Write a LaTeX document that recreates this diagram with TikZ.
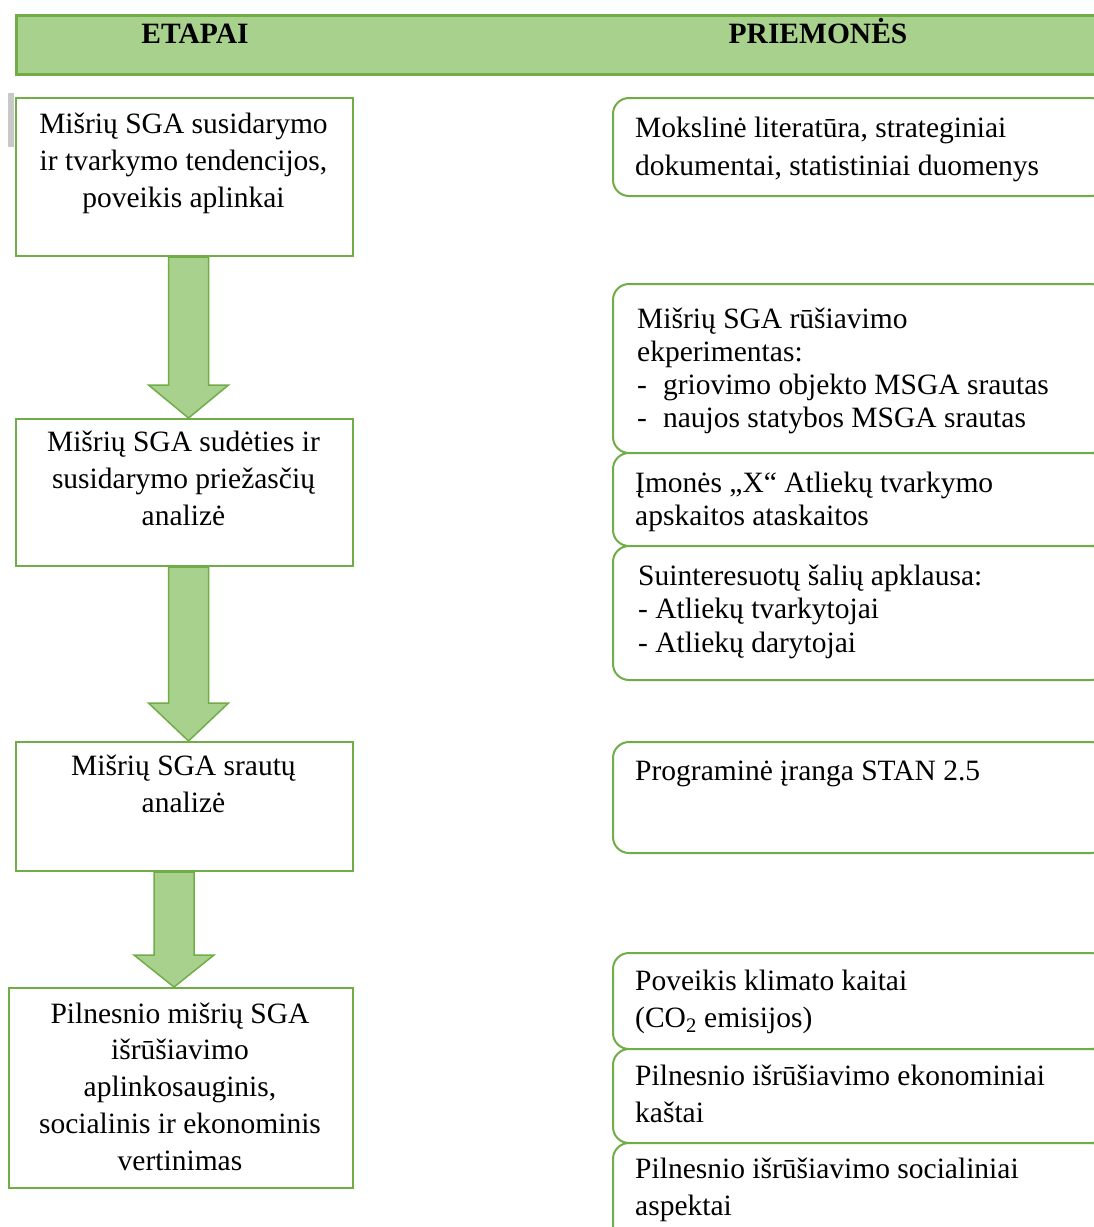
\documentclass[tikz,border=0pt]{standalone}
\usepackage{fontspec}
\setmainfont{Liberation Serif}
\usetikzlibrary{calc}
\definecolor{gfill}{HTML}{A9D18E}
\definecolor{gline}{HTML}{70AD47}
\definecolor{gbar}{HTML}{C8C8C8}
\tikzset{
 lbox/.style={draw=gline, line width=2pt, fill=white, rectangle, inner sep=0pt, anchor=north west},
 rbox/.style={draw=gline, line width=2pt, fill=white, rectangle, rounded corners=16pt, inner sep=0pt, anchor=north west},
 hdr/.style={draw=gline, line width=2.5pt, fill=gfill, rectangle, inner sep=0pt, anchor=north west},
 htxt/.style={inner sep=0pt, anchor=base, font={\fontsize{29.5}{37}\selectfont\bfseries}},
 txt/.style={inner sep=0pt, anchor=base, font={\fontsize{29.5}{37}\selectfont}},
 rtxt/.style={inner sep=0pt, anchor=base west, font={\fontsize{29.5}{#1}\selectfont}},
 rtxt/.default=37,
 blockarr/.style={draw=gline, line width=1.5pt, fill=gfill, line join=miter},
}
\newcommand{\myblockarrow}[5]{%
 \path[blockarr] let \p1=(#1), \p2=(#2) in
  (\x1-#3pt,\y1) -- (\x1+#3pt,\y1) -- (\x1+#3pt,\y2+#5pt) -- (\x1+#4pt,\y2+#5pt)
  -- (\x1,\y2) -- (\x1-#4pt,\y2+#5pt) -- (\x1-#3pt,\y2+#5pt) -- cycle;}
\begin{document}
\begin{tikzpicture}[x=1pt,y=-1pt]
\useasboundingbox (0,0) rectangle (1094,1227);
\begin{scope}
\clip (0,0) rectangle (1094,1227);
\fill[white] (0,0) rectangle (1094,1227);
% header
\node[hdr, minimum width=1100pt, minimum height=59pt] (hdr) at (15,14) {};
\node[htxt] (h1) at (195,43) {ETAPAI};
\node[htxt] (h2) at (818,43) {PRIEMONĖS};
% grey mark
\fill[gbar] (8,93) rectangle (14,147);
% left boxes
\node[lbox, minimum width=337pt, minimum height=158pt] (b1) at (15,97) {};
\node[lbox, minimum width=337pt, minimum height=147pt] (b2) at (15,418) {};
\node[lbox, minimum width=337pt, minimum height=129pt] (b3) at (15,741) {};
\node[lbox, minimum width=344pt, minimum height=200pt] (b4) at (8,987) {};
\node[txt] (t1) at (183.5,133) {\parbox[t]{330pt}{\centering Mišrių SGA susidarymo\\ ir tvarkymo tendencijos,\\ poveikis aplinkai}};
\node[txt] (t2) at (183.5,451) {\parbox[t]{330pt}{\centering Mišrių SGA sudėties ir\\ susidarymo priežasčių\\ analizė}};
\node[txt] (t3) at (183.5,775) {\parbox[t]{330pt}{\centering Mišrių SGA srautų\\ analizė}};
\node[txt, font={\fontsize{29.5}{36.75}\selectfont}] (t4) at (180,1023) {\parbox[t]{336pt}{\centering Pilnesnio mišrių SGA\\ išrūšiavimo\\ aplinkosauginis,\\ socialinis ir ekonominis\\ vertinimas}};
% arrows
\coordinate (a1s) at ($(b1.south)+(4,0)$);
\coordinate (a1e) at ($(b2.north)+(4,0)$);
\coordinate (a2s) at ($(b2.south)+(4,0)$);
\coordinate (a2e) at ($(b3.north)+(4,0)$);
\coordinate (a3s) at ($(b3.south)+(-10.5,0)$);
\coordinate (a3e) at ($(b4.north)+(-7,0)$);
\myblockarrow{a1s}{a1e}{20}{40}{33}
\myblockarrow{a2s}{a2e}{20}{40}{38}
\myblockarrow{a3s}{a3e}{20}{40}{32}
% right boxes
\node[rbox, minimum width=494pt, minimum height=98pt] (r1) at (612,97) {};
\node[rbox, minimum width=494pt, minimum height=169pt] (r2) at (612,283) {};
\node[rbox, minimum width=494pt, minimum height=93pt] (r3) at (612,452) {};
\node[rbox, minimum width=494pt, minimum height=134pt] (r4) at (612,545) {};
\node[rbox, minimum width=494pt, minimum height=111pt] (r5) at (612,741) {};
\node[rbox, minimum width=494pt, minimum height=96pt] (r6) at (612,952) {};
\node[rbox, minimum width=494pt, minimum height=94pt] (r7) at (612,1048) {};
\node[rbox, minimum width=494pt, minimum height=120pt] (r8) at (612,1142) {};
\node[rtxt=38] (u1) at (635,137) {\parbox[t]{450pt}{\raggedright Mokslinė literatūra, strateginiai\\ dokumentai, statistiniai duomenys}};
\node[rtxt=33.2] (u2) at (637,328) {\parbox[t]{450pt}{\raggedright Mišrių SGA rūšiavimo\\ ekperimentas:\\ -\hspace{16pt}griovimo objekto MSGA srautas\\ -\hspace{16pt}naujos statybos MSGA srautas}};
\node[rtxt=33.5] (u3) at (635,492) {\parbox[t]{450pt}{\raggedright Įmonės „X“ Atliekų tvarkymo\\ apskaitos ataskaitos}};
\node[rtxt=33.5] (u4) at (638,585) {\parbox[t]{450pt}{\raggedright Suinteresuotų šalių apklausa:\\ - Atliekų tvarkytojai\\ - Atliekų darytojai}};
\node[rtxt] (u5) at (635,780) {\parbox[t]{450pt}{\raggedright Programinė įranga STAN 2.5}};
\node[rtxt] (u6) at (635,990) {\parbox[t]{450pt}{\raggedright Poveikis klimato kaitai\\ (CO\textsubscript{2} emisijos)}};
\node[rtxt] (u7) at (635,1085) {\parbox[t]{450pt}{\raggedright Pilnesnio išrūšiavimo ekonominiai\\ kaštai}};
\node[rtxt] (u8) at (635,1178) {\parbox[t]{450pt}{\raggedright Pilnesnio išrūšiavimo socialiniai\\ aspektai}};
\end{scope}
\end{tikzpicture}
\end{document}
